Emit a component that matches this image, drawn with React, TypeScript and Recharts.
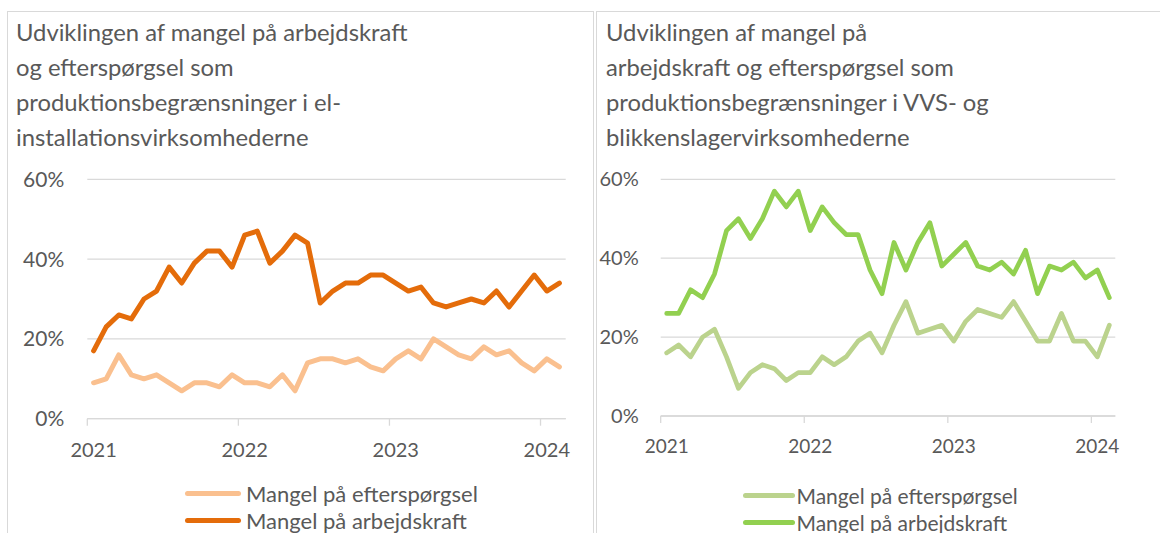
import React from "react";
import { LineChart, Line, XAxis, YAxis, CartesianGrid, Legend } from "recharts";

const months = [
  "2021-01","2021-02","2021-03","2021-04","2021-05","2021-06","2021-07","2021-08","2021-09","2021-10","2021-11","2021-12",
  "2022-01","2022-02","2022-03","2022-04","2022-05","2022-06","2022-07","2022-08","2022-09","2022-10","2022-11","2022-12",
  "2023-01","2023-02","2023-03","2023-04","2023-05","2023-06","2023-07","2023-08","2023-09","2023-10","2023-11","2023-12",
  "2024-01","2024-02",
];

const elDemand = [9,10,16,11,10,11,9,7,9,9,8,11,9,9,8,11,7,14,15,15,14,15,13,12,15,17,15,20,18,16,15,18,16,17,14,12,15,13];
const elLabour = [17,23,26,25,30,32,38,34,39,42,42,38,46,47,39,42,46,44,29,32,34,34,36,36,34,32,33,29,28,29,30,29,32,28,32,36,32,34];
const vvsDemand = [16,18,15,20,22,15,7,11,13,12,9,11,11,15,13,15,19,21,16,23,29,21,22,23,19,24,27,26,25,29,24,19,19,26,19,19,15,23];
const vvsLabour = [26,26,32,30,36,47,50,45,50,57,53,57,47,53,49,46,46,37,31,44,37,44,49,38,41,44,38,37,39,36,42,31,38,37,39,35,37,30];

const yTicks = [0, 20, 40, 60];
const seriesNames = ["Mangel på efterspørgsel", "Mangel på arbejdskraft"];

const titleLeft = [
  "Udviklingen af mangel på arbejdskraft",
  "og efterspørgsel som",
  "produktionsbegrænsninger i el-",
  "installationsvirksomhederne",
];
const titleRight = [
  "Udviklingen af mangel på",
  "arbejdskraft og efterspørgsel som",
  "produktionsbegrænsninger i VVS- og",
  "blikkenslagervirksomhederne",
];

const FONT = "Lato, 'Open Sans', sans-serif";
const TEXT = "#595959";
const GRID = "#d9d9d9";

const buildData = (demand: number[], labour: number[]) =>
  months.map((m, i) => ({ month: m, idx: i, demand: demand[i], labour: labour[i] }));

const janTicks = months.map((m, i) => (m.endsWith("-01") ? i : -1)).filter((i) => i >= 0);

const YearTick = (props: any) => {
  const { x, y, payload, half, fs, dy } = props;
  return (
    <g>
      <line x1={x - half} x2={x - half} y1={y} y2={y + 7} stroke={GRID} strokeWidth={1.3} />
      <text x={x} y={y + dy} textAnchor="middle" fill={TEXT} fontSize={fs} fontFamily={FONT}>
        {months[payload.value].slice(0, 4)}
      </text>
    </g>
  );
};

const makeLegend = (fs: number, lineW: number, gap: number, rowH: number) => (props: any) => {
  const payload = [...(props.payload || [])].sort(
    (a: any, b: any) => seriesNames.indexOf(a.value) - seriesNames.indexOf(b.value)
  );
  return (
    <div>
      {payload.map((p: any) => (
        <div key={p.value} style={{ display: "flex", alignItems: "center", height: rowH }}>
          <div style={{ width: lineW, height: 5, borderRadius: 3, background: p.color }} />
          <span style={{ marginLeft: gap, fontSize: fs, color: TEXT, fontFamily: FONT, lineHeight: `${rowH}px`, whiteSpace: "nowrap" }}>
            {p.value}
          </span>
        </div>
      ))}
    </div>
  );
};

type PanelCfg = {
  left: number;
  width: number;
  data: any[];
  colors: [string, string];
  margin: { top: number; right: number; bottom: number; left: number };
  tickMargin: number;
  yFs: number;
  xFs: number;
  xDy: number;
  strokeW: number;
  legendLeft: number;
  legendTop: number;
  legendFs: number;
  legendLineW: number;
  legendGap: number;
  legendRowH: number;
};

const Y_AXIS_W = 60;
const X_AXIS_H = 40;
const CH = 533;

const Panel = (c: PanelCfg) => {
  const plotW = c.width - c.margin.left - c.margin.right - Y_AXIS_W;
  const half = plotW / months.length / 2;
  return (
    <div style={{ position: "absolute", left: c.left, top: 0 }}>
      <LineChart width={c.width} height={CH} data={c.data} margin={c.margin}>
        <CartesianGrid vertical={false} stroke={GRID} strokeWidth={1.3} />
        <XAxis
          dataKey="idx"
          type="number"
          domain={[-0.5, months.length - 0.5]}
          ticks={janTicks}
          interval={0}
          height={X_AXIS_H}
          axisLine={{ stroke: GRID, strokeWidth: 1.3 }}
          tickLine={false}
          tickSize={0}
          tickMargin={0}
          tick={<YearTick half={half} fs={c.xFs} dy={c.xDy} />}
        />
        <YAxis
          width={Y_AXIS_W}
          domain={[0, 60]}
          ticks={yTicks}
          axisLine={false}
          tickLine={false}
          tickSize={0}
          tickMargin={c.tickMargin}
          tickFormatter={(v: number) => `${v}%`}
          tick={{ fill: TEXT, fontSize: c.yFs, fontFamily: FONT }}
        />
        <Line
          dataKey="demand"
          name={seriesNames[0]}
          stroke={c.colors[0]}
          strokeWidth={c.strokeW}
          strokeLinejoin="round"
          strokeLinecap="round"
          dot={false}
          activeDot={false}
          isAnimationActive={false}
        />
        <Line
          dataKey="labour"
          name={seriesNames[1]}
          stroke={c.colors[1]}
          strokeWidth={c.strokeW}
          strokeLinejoin="round"
          strokeLinecap="round"
          dot={false}
          activeDot={false}
          isAnimationActive={false}
        />
        <Legend
          layout="vertical"
          align="center"
          verticalAlign="middle"
          wrapperStyle={{ left: c.legendLeft, top: c.legendTop, width: 320 }}
          content={makeLegend(c.legendFs, c.legendLineW, c.legendGap, c.legendRowH)}
        />
      </LineChart>
    </div>
  );
};

const Title = ({ lines, left, fs }: { lines: string[]; left: number; fs: number }) => (
  <div
    style={{
      position: "absolute",
      left,
      top: 15,
      fontFamily: FONT,
      fontSize: fs,
      lineHeight: "35px",
      color: TEXT,
      whiteSpace: "nowrap",
    }}
  >
    {lines.map((l) => (
      <div key={l}>{l}</div>
    ))}
  </div>
);

export default function App() {
  return (
    <div style={{ position: "absolute", left: 0, top: 0, width: 1160, height: 533, background: "#fff", overflow: "hidden" }}>
      <div style={{ position: "absolute", left: 7, top: 11, width: 585, height: 540, borderLeft: `1px solid ${GRID}`, borderTop: `1px solid ${GRID}`, borderRight: `1px solid ${GRID}` }} />
      <div style={{ position: "absolute", left: 596, top: 11, width: 580, height: 540, borderLeft: `1px solid ${GRID}`, borderTop: `1px solid ${GRID}` }} />
      <Title lines={titleLeft} left={16} fs={23.8} />
      <Title lines={titleRight} left={606} fs={23.8} />
      <Panel
        left={0}
        width={590}
        data={buildData(elDemand, elLabour)}
        colors={["#FAC08F", "#E46C0A"]}
        margin={{ top: 179.3, right: 24.3, bottom: CH - 418.7 - X_AXIS_H, left: 27.3 }}
        tickMargin={23}
        yFs={21}
        xFs={20}
        xDy={38}
        strokeW={5}
        legendLeft={185}
        legendTop={479.5}
        legendFs={22}
        legendLineW={56}
        legendGap={5}
        legendRowH={27}
      />
      <Panel
        left={597}
        width={563}
        data={buildData(vvsDemand, vvsLabour)}
        colors={["#BBD38D", "#92D050"]}
        margin={{ top: 179.3, right: 44.7, bottom: CH - 416 - X_AXIS_H, left: 3.7 }}
        tickMargin={22}
        yFs={20}
        xFs={19}
        xDy={37}
        strokeW={4.7}
        legendLeft={145.5}
        legendTop={481.5}
        legendFs={21}
        legendLineW={52}
        legendGap={2}
        legendRowH={27}
      />
    </div>
  );
}
